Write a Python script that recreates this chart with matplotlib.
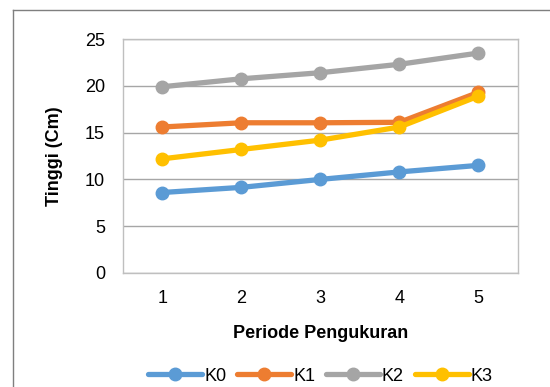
import matplotlib.pyplot as plt
from matplotlib.lines import Line2D

plt.rcParams['font.family'] = ['Liberation Sans', 'DejaVu Sans']

periode = [1, 2, 3, 4, 5]
k0 = [8.6, 9.15, 10.0, 10.8, 11.5]
k1 = [15.6, 16.05, 16.05, 16.1, 19.3]
k2 = [19.9, 20.75, 21.4, 22.3, 23.5]
k3 = [12.2, 13.2, 14.2, 15.6, 18.9]

series = [('K0', k0, '#5B9BD5'), ('K1', k1, '#ED7D31'),
          ('K2', k2, '#A5A5A5'), ('K3', k3, '#FFC000')]

fig = plt.figure(figsize=(5.5, 3.87), dpi=100)
ax = fig.add_axes([0.2236, 0.2946, 0.7182, 0.6046])

for name, vals, col in series:
    ax.plot(periode, vals, color=col, lw=3.8, marker='o', ms=9,
            solid_capstyle='round', label=name, zorder=3)

ax.set_xlim(0.5, 5.5)
ax.set_ylim(0, 25)
ax.set_xticks(periode)
ax.set_yticks(range(0, 26, 5))
ax.yaxis.grid(True, color='#A6A6A6', lw=1)
ax.set_axisbelow(True)
for s in ax.spines.values():
    s.set_color('#BFBFBF')
    s.set_linewidth(1)
ax.tick_params(length=0, labelsize=13, pad=12)
ax.tick_params(axis='y', pad=13)

ax.set_xlabel('Periode Pengukuran', fontsize=13, fontweight='bold', labelpad=13)
ax.set_ylabel('Tinggi (Cm)', fontsize=13, fontweight='bold', labelpad=16)

ax.legend(loc='upper center', bbox_to_anchor=(0.5, -0.335), ncol=4, frameon=False,
          fontsize=13, handlelength=3.0, handletextpad=0.1, columnspacing=0.6)

# outer frame, only top and left edges show
fig.add_artist(Line2D([13 / 550, 1], [1 - 10 / 387, 1 - 10 / 387], color='#7F7F7F', lw=1))
fig.add_artist(Line2D([13 / 550, 13 / 550], [0, 1 - 10 / 387], color='#7F7F7F', lw=1))

fig.savefig('out.png', dpi=100)
